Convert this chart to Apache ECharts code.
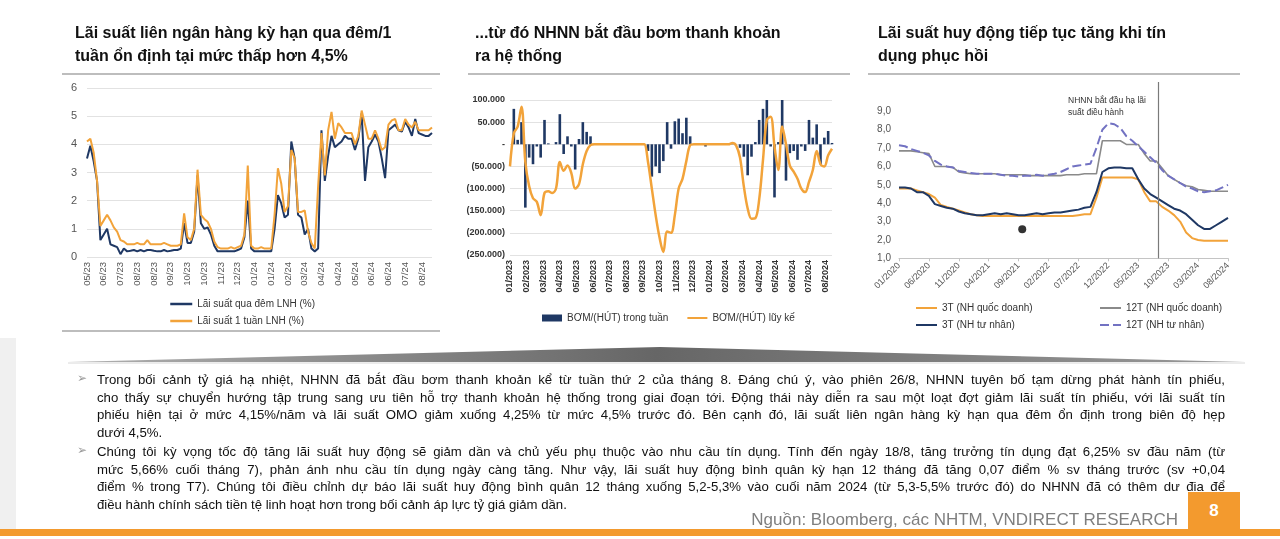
<!DOCTYPE html>
<html><head><meta charset="utf-8">
<script src="https://cdn.jsdelivr.net/npm/echarts@6/dist/echarts.min.js"></script>
<style>
html,body{margin:0;padding:0;background:#fff;width:1280px;height:539px;overflow:hidden;font-family:"Liberation Sans",Arial,sans-serif;}
#chart{position:absolute;left:0;top:0;width:1280px;height:539px;}
.ov{position:absolute;pointer-events:none;z-index:3;}
.title{font-weight:bold;font-size:16px;line-height:23px;color:#111;white-space:nowrap;}
.rule{background:#bdbdbd;height:2px;}
.para{left:97px;width:1128px;font-size:13.2px;line-height:17.5px;color:#111;}
.para div{text-align:justify;text-align-last:justify;white-space:normal;}
.para div.last{text-align-last:left;}
.bul{font-family:"DejaVu Sans",sans-serif;font-size:12px;color:#9a9a9a;}
</style></head>
<body>
<div id="chart"></div>

<div class="ov title" style="left:75px;top:21px;">Lãi suất liên ngân hàng kỳ hạn qua đêm/1<br>tuần ổn định tại mức thấp hơn 4,5%</div>
<div class="ov title" style="left:475px;top:21px;">...từ đó NHNN bắt đầu bơm thanh khoản<br>ra hệ thống</div>
<div class="ov title" style="left:878px;top:21px;">Lãi suất huy động tiếp tục tăng khi tín<br>dụng phục hồi</div>
<div class="ov rule" style="left:62px;top:73px;width:378px;"></div>
<div class="ov rule" style="left:468px;top:73px;width:382px;"></div>
<div class="ov rule" style="left:868px;top:73px;width:372px;"></div>
<div class="ov rule" style="left:62px;top:330px;width:378px;"></div>
<div class="ov" style="left:1068px;top:94px;font-size:8.5px;line-height:12px;color:#333;">NHNN bắt đầu hạ lãi<br>suất điều hành</div>

<div class="ov" style="left:0;top:338px;width:16px;height:192px;background:#f0f0f0;"></div>
<svg class="ov" style="left:0;top:340px;" width="1280" height="30">
<defs><linearGradient id="rg" x1="0" x2="1" y1="0" y2="0">
<stop offset="0" stop-color="#b0b0b0"/><stop offset="0.5" stop-color="#666"/><stop offset="1" stop-color="#9a9a9a"/></linearGradient></defs>
<polygon points="68,22 660,7 1245,22" fill="url(#rg)"/>
<line x1="68" y1="23" x2="1245" y2="23" stroke="#d8d8d8" stroke-width="1"/>
</svg>

<div class="ov bul" style="left:77px;top:371px;">➢</div>
<div class="ov bul" style="left:77px;top:443px;">➢</div>
<div class="ov para" style="top:371px;">
<div>Trong bối cảnh tỷ giá hạ nhiệt, NHNN đã bắt đầu bơm thanh khoản kể từ tuần thứ 2 của tháng 8. Đáng chú ý, vào phiên 26/8, NHNN tuyên bố tạm dừng phát hành tín phiếu,</div>
<div>cho thấy sự chuyển hướng tập trung sang ưu tiên hỗ trợ thanh khoản hệ thống trong giai đoạn tới. Động thái này diễn ra sau một loạt đợt giảm lãi suất tín phiếu, với lãi suất tín</div>
<div>phiếu hiện tại ở mức 4,15%/năm và lãi suất OMO giảm xuống 4,25% từ mức 4,5% trước đó. Bên cạnh đó, lãi suất liên ngân hàng kỳ hạn qua đêm ổn định trong biên độ hẹp</div>
<div class="last">dưới 4,5%.</div>
</div>
<div class="ov para" style="top:443px;">
<div>Chúng tôi kỳ vọng tốc độ tăng lãi suất huy động sẽ giảm dần và chủ yếu phụ thuộc vào nhu cầu tín dụng. Tính đến ngày 18/8, tăng trưởng tín dụng đạt 6,25% sv đầu năm (từ</div>
<div>mức 5,66% cuối tháng 7), phản ánh nhu cầu tín dụng ngày càng tăng. Như vậy, lãi suất huy động bình quân kỳ hạn 12 tháng đã tăng 0,07 điểm % sv tháng trước (sv +0,04</div>
<div>điểm % trong T7). Chúng tôi điều chỉnh dự báo lãi suất huy động bình quân 12 tháng xuống 5,2-5,3% vào cuối năm 2024 (từ 5,3-5,5% trước đó) do NHNN đã có thêm dư địa để</div>
<div class="last">điều hành chính sách tiền tệ linh hoạt hơn trong bối cảnh áp lực tỷ giá giảm dần.</div>
</div>

<div class="ov" style="right:102px;top:509px;font-size:17px;line-height:22px;color:#7f7f7f;white-space:nowrap;">Nguồn: Bloomberg, các NHTM, VNDIRECT RESEARCH</div>
<div class="ov" style="left:1188px;top:492px;width:52px;height:38px;background:#f39a2e;color:#fff;font-weight:bold;font-size:17px;line-height:38px;text-align:center;">8</div>
<div class="ov" style="left:0;top:529px;width:1280px;height:7px;background:#f39a2e;"></div>

<script>
// ---------- Chart 1: interbank rates (daily, sampled) ----------
const tickLabels1 = ['05/23','06/23','07/23','08/23','08/23','09/23','10/23','10/23','11/23','12/23','01/24','01/24','02/24','03/24','04/24','04/24','05/24','06/24','06/24','07/24','08/24'];
const overnightRate = [3.5,3.95,3.4,2.7,0.6,0.8,1.0,0.45,0.4,0.35,
0.1,0.3,0.2,0.22,0.25,0.2,0.25,0.2,0.25,0.25,
0.22,0.2,0.2,0.25,0.2,0.22,0.25,0.25,0.3,1.2,
0.5,0.5,0.9,2.9,1.2,1.0,1.05,0.8,0.4,0.2,
0.2,0.2,0.2,0.2,0.2,0.25,0.3,0.7,2.0,0.3,
0.2,0.2,0.2,0.2,0.2,0.2,1.0,2.2,1.9,1.4,
1.5,4.1,3.5,1.5,1.4,0.8,1.0,0.3,0.2,0.3,
4.5,2.7,3.6,4.3,3.9,4.0,4.1,4.3,4.2,4.2,
3.8,4.2,5.1,2.7,3.9,4.1,4.35,4.1,3.5,2.8,
4.5,4.6,4.7,4.5,4.45,4.8,4.6,4.3,4.9,4.4,
4.35,4.3,4.3,4.4];
const weekRate = [4.1,4.2,3.7,2.7,1.1,1.3,1.5,1.3,1.05,0.9,
0.6,0.55,0.45,0.45,0.45,0.5,0.45,0.45,0.6,0.45,
0.45,0.45,0.45,0.5,0.45,0.4,0.4,0.4,0.45,1.55,
0.7,0.6,1.0,3.1,1.5,1.35,1.25,1.0,0.55,0.35,
0.3,0.3,0.3,0.35,0.3,0.35,0.4,0.8,3.25,0.4,
0.3,0.3,0.35,0.3,0.3,0.3,1.5,3.15,2.6,1.6,
1.8,3.8,3.5,1.6,1.6,1.65,0.9,0.5,0.3,2.5,
4.4,2.9,4.5,5.15,4.2,4.75,4.6,4.4,4.4,4.4,
4.0,4.3,5.2,4.7,4.2,4.2,4.5,4.2,3.8,3.9,
4.7,4.85,4.9,4.5,4.5,4.9,4.7,4.6,4.8,4.5,
4.5,4.5,4.5,4.6];
const labelStep1 = 5;

// ---------- Chart 2: weekly liquidity injection (weeks from 01/2023) ----------
const tickLabels2 = ['01/2023','02/2023','03/2023','04/2023','05/2023','06/2023','07/2023','08/2023','09/2023','10/2023','11/2023','12/2023','01/2024','02/2024','03/2024','04/2024','05/2024','06/2024','07/2024','08/2024'];
const weeklyNet = [0,80000,10000,50000,-143000,-30000,-45000,-5000,-30000,55000,
2000,0,5000,68000,-22000,18000,-5000,-57000,12000,50000,
28000,18000,0,0,0,0,0,0,0,0,
0,0,0,0,0,0,-15000,-73000,-50000,-65000,
-38000,50000,-10000,52000,58000,25000,60000,18000,0,0,
0,-5000,0,0,0,0,0,0,3000,0,
-8000,-28000,-70000,-28000,5000,55000,80000,100000,-5000,-120000,
5000,100000,-82000,-20000,-15000,-35000,-5000,-15000,55000,15000,
45000,-45000,15000,30000,3000];
const cumulativeNet = [-50000,25000,40000,85000,-40000,-95000,-122000,-130000,-160000,-110000,
-106000,-110000,-100000,-40000,-60000,-48000,-65000,-100000,-90000,-45000,
-15000,-2000,0,0,0,0,0,0,0,0,
0,0,0,0,0,0,-40000,-100000,-160000,-210000,
-243000,-197000,-200000,-160000,-100000,-78000,-38000,-2000,0,0,
0,0,0,0,0,0,0,0,3000,-3000,
-30000,-95000,-145000,-168000,-167000,-125000,-35000,55000,62000,-5000,
-58000,40000,0,-48000,-62000,-78000,-100000,-108000,-85000,-58000,
-15000,-45000,-50000,-25000,-10000];
const weeksPerYear = 52, monthsPerYear = 12;

// ---------- Chart 3: deposit rates (monthly from 01/2020) ----------
const tickLabels3 = ['01/2020','06/2020','11/2020','04/2021','09/2021','02/2022','07/2022','12/2022','05/2023','10/2023','03/2024','08/2024'];
const dep3mState = [4.8,4.8,4.8,4.7,4.6,4.5,4.3,3.9,3.8,3.7,
3.6,3.5,3.4,3.35,3.3,3.3,3.3,3.3,3.3,3.3,
3.3,3.3,3.3,3.3,3.3,3.3,3.3,3.3,3.3,3.3,
3.35,3.4,3.4,4.3,5.4,5.4,5.4,5.4,5.4,5.4,
5.3,4.6,4.1,4.1,3.8,3.6,3.35,3.0,2.4,2.1,
2.0,1.95,1.95,1.95,1.95,1.95];
const dep3mPrivate = [4.85,4.85,4.8,4.6,4.6,4.4,3.95,3.85,3.75,3.7,
3.55,3.45,3.4,3.35,3.35,3.4,3.45,3.4,3.45,3.4,
3.35,3.35,3.4,3.45,3.4,3.45,3.5,3.5,3.55,3.6,
3.65,3.75,3.8,4.6,5.7,5.9,5.95,5.95,5.9,5.9,
5.3,4.8,4.5,4.3,4.1,3.9,3.7,3.6,3.4,3.1,
2.8,2.6,2.6,2.8,3.0,3.2];
const dep12mState = [6.85,6.85,6.85,6.8,6.75,6.7,6.0,6.0,6.0,5.95,
5.7,5.65,5.6,5.6,5.6,5.6,5.6,5.55,5.55,5.55,
5.55,5.55,5.5,5.5,5.5,5.5,5.5,5.5,5.55,5.55,
5.55,5.6,5.6,5.6,7.4,7.4,7.4,7.4,7.2,7.2,
7.2,6.7,6.3,6.3,5.9,5.5,5.3,5.1,4.95,4.9,
4.75,4.7,4.65,4.65,4.65,4.65];
const dep12mPrivate = [7.15,7.1,6.95,6.85,6.75,6.6,6.3,6.1,6.0,5.95,
5.75,5.7,5.65,5.6,5.6,5.6,5.6,5.55,5.5,5.5,
5.45,5.5,5.5,5.55,5.5,5.55,5.6,5.7,5.85,6.0,
6.05,6.1,6.15,7.0,8.0,8.35,8.3,8.1,7.65,7.4,
7.1,6.8,6.5,6.2,5.8,5.5,5.3,5.1,4.9,4.8,
4.65,4.6,4.65,4.7,4.85,5.0];
const rateCutMonth = 43.3;
const strayDot = [[20.6, 2.58]];
const labelStep3 = 5;

// ---------- build ----------
const cats1 = overnightRate.map((_, i) => String(i));
const barData = weeklyNet.map((v, w) => [w * monthsPerYear / weeksPerYear, v]);
const lineData2 = cumulativeNet.map((v, w) => [w * monthsPerYear / weeksPerYear, v]);
const x2max = (weeklyNet.length - 1) * monthsPerYear / weeksPerYear;
const months3 = dep3mState.map((_, i) => i);
const pair3 = arr => arr.map((v, i) => [months3[i], v]);

const FONT = '"Liberation Sans", Arial, sans-serif';
const NAVY = '#1f3864', ORANGE = '#f2a33a', GRAY = '#8a8a8a', PURPLE = '#7272c2';
const fmtK = n => (n / 1000).toFixed(0) + '.000';
const LEG_TEXT = {fontSize: 10, color: '#333', fontFamily: FONT};
const noSymbol = {opacity: 0};

const chart = echarts.init(document.getElementById('chart'), null, {renderer: 'canvas'});
chart.setOption({
  animation: false,
  textStyle: {fontFamily: FONT},
  grid: [
    {left: 87, top: 88, width: 345, height: 169},
    {left: 510, top: 100, width: 322, height: 155},
    {left: 899, top: 82, width: 329, height: 176.3}
  ],
  xAxis: [
    {gridIndex: 0, type: 'category', data: cats1, boundaryGap: false,
     axisLine: {show: false}, axisTick: {show: false}, splitLine: {show: false},
     axisLabel: {interval: labelStep1 - 1, rotate: 90, fontSize: 9.5, color: '#555', margin: 5, fontFamily: FONT,
       formatter: (v) => { const i = +v; return i % labelStep1 === 0 ? (tickLabels1[i / labelStep1] || '') : ''; }}},
    {gridIndex: 1, type: 'value', min: 0, max: x2max, interval: 1,
     axisLine: {show: false, onZero: false}, axisTick: {show: false}, splitLine: {show: false},
     axisLabel: {rotate: 90, fontSize: 9, color: '#333', fontWeight: 'bold', margin: 5, fontFamily: FONT, showMaxLabel: true,
       formatter: (v) => Number.isInteger(Math.round(v * 1000) / 1000) ? (tickLabels2[Math.round(v)] || '') : ''}},
    {gridIndex: 2, type: 'value', min: 0, max: months3[months3.length - 1], interval: labelStep3,
     axisLine: {show: true, onZero: false, lineStyle: {color: '#c4c4c4', width: 1}},
     axisTick: {show: true, length: 3, lineStyle: {color: '#c4c4c4'}}, splitLine: {show: false},
     axisLabel: {rotate: 45, fontSize: 9, color: '#555', margin: 6, fontFamily: FONT,
       formatter: (v) => tickLabels3[Math.round(v / labelStep3)] || ''}}
  ],
  yAxis: [
    {gridIndex: 0, type: 'value', min: 0, max: 6, interval: 1,
     axisLine: {show: false}, axisTick: {show: false},
     splitLine: {show: true, lineStyle: {color: '#e2e2e2', width: 1}},
     axisLabel: {fontSize: 11, color: '#555', margin: 10, fontFamily: FONT}},
    {gridIndex: 1, type: 'value', min: -250000, max: 100000, interval: 50000,
     axisLine: {show: false}, axisTick: {show: false},
     splitLine: {show: true, lineStyle: {color: '#e2e2e2', width: 1}},
     axisLabel: {fontSize: 9, color: '#333', fontWeight: 'bold', margin: 5, fontFamily: FONT,
       formatter: v => v === 0 ? '-' : (v < 0 ? '(' + fmtK(-v) + ')' : fmtK(v))}},
    {gridIndex: 2, type: 'value', min: 1, max: 10.6, interval: 1,
     axisLine: {show: false}, axisTick: {show: false}, splitLine: {show: false},
     axisLabel: {fontSize: 10, color: '#555', margin: 8, fontFamily: FONT,
       formatter: v => (v <= 9 && Math.abs(v - Math.round(v)) < 1e-6) ? v.toFixed(1).replace('.', ',') : ''}}
  ],
  legend: [
    {data: ['Lãi suất qua đêm LNH (%)', 'Lãi suất 1 tuần LNH (%)'], orient: 'vertical', left: 164, top: 294,
     itemWidth: 22, itemHeight: 10, itemGap: 7, itemStyle: noSymbol, lineStyle: {width: 2.5}, textStyle: LEG_TEXT},
    {data: [{name: 'BƠM/(HÚT) trong tuần', icon: 'rect'}, {name: 'BƠM/(HÚT) lũy kế', itemStyle: noSymbol}], left: 537, top: 308,
     itemWidth: 20, itemHeight: 7, itemGap: 18, textStyle: LEG_TEXT},
    {data: ['3T (NH quốc doanh)', '3T (NH tư nhân)'], orient: 'vertical', left: 910, top: 298,
     itemWidth: 21, itemHeight: 8, itemGap: 7, itemStyle: noSymbol, textStyle: LEG_TEXT},
    {data: ['12T (NH quốc doanh)', '12T (NH tư nhân)'], orient: 'vertical', left: 1094, top: 298,
     itemWidth: 21, itemHeight: 8, itemGap: 7, itemStyle: noSymbol, textStyle: LEG_TEXT}
  ],
  series: [
    {name: 'Lãi suất qua đêm LNH (%)', type: 'line', xAxisIndex: 0, yAxisIndex: 0, data: overnightRate,
     symbol: 'none', lineStyle: {color: NAVY, width: 2}, itemStyle: {color: NAVY}},
    {name: 'Lãi suất 1 tuần LNH (%)', type: 'line', xAxisIndex: 0, yAxisIndex: 0, data: weekRate,
     symbol: 'none', lineStyle: {color: ORANGE, width: 2}, itemStyle: {color: ORANGE}},
    {name: 'BƠM/(HÚT) trong tuần', type: 'bar', xAxisIndex: 1, yAxisIndex: 1, data: barData,
     barWidth: 2.6, itemStyle: {color: NAVY}},
    {name: 'BƠM/(HÚT) lũy kế', type: 'line', xAxisIndex: 1, yAxisIndex: 1, data: lineData2, smooth: 0.35,
     symbol: 'none', lineStyle: {color: ORANGE, width: 2.5}, itemStyle: {color: ORANGE}, z: 5},
    {name: '12T (NH quốc doanh)', type: 'line', xAxisIndex: 2, yAxisIndex: 2, data: pair3(dep12mState),
     symbol: 'none', lineStyle: {color: GRAY, width: 1.6}, itemStyle: {color: GRAY},
     markLine: {symbol: 'none', silent: true, label: {show: false}, lineStyle: {color: '#7a7a7a', width: 1.2, type: 'solid'},
       data: [{xAxis: rateCutMonth}]}},
    {name: '12T (NH tư nhân)', type: 'line', xAxisIndex: 2, yAxisIndex: 2, data: pair3(dep12mPrivate),
     symbol: 'none', lineStyle: {color: PURPLE, width: 2, type: [9, 4]}, itemStyle: {color: PURPLE}},
    {name: '3T (NH quốc doanh)', type: 'line', xAxisIndex: 2, yAxisIndex: 2, data: pair3(dep3mState),
     symbol: 'none', lineStyle: {color: ORANGE, width: 2}, itemStyle: {color: ORANGE}},
    {name: '3T (NH tư nhân)', type: 'line', xAxisIndex: 2, yAxisIndex: 2, data: pair3(dep3mPrivate),
     symbol: 'none', lineStyle: {color: NAVY, width: 2}, itemStyle: {color: NAVY}},
    {name: 'dot', type: 'scatter', xAxisIndex: 2, yAxisIndex: 2, data: strayDot,
     symbolSize: 8, itemStyle: {color: '#000'}}
  ]
});
</script>
</body></html>
